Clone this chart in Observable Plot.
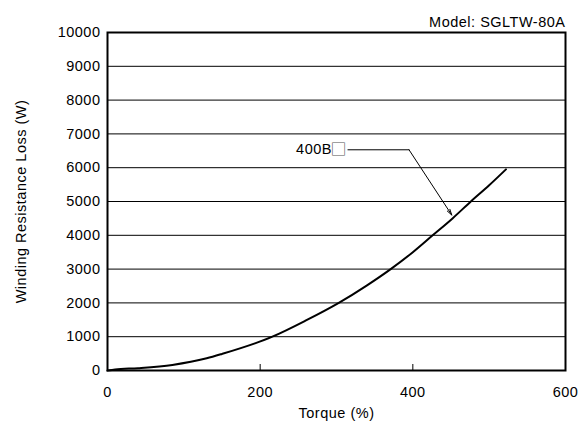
<!DOCTYPE html>
<html>
<head>
<meta charset="utf-8">
<script src="https://cdn.jsdelivr.net/npm/d3@7"></script>
<script src="https://cdn.jsdelivr.net/npm/@observablehq/plot@0.6"></script>
<style>
  html, body { margin: 0; padding: 0; background: #fff; }
  #chart svg { display: block; }
</style>
</head>
<body>
<div id="chart"></div>
<script>
// Data
const torque = [0, 10, 40, 85, 130, 150, 216, 260, 303, 340, 371, 400, 426, 452, 476, 500, 522];
const loss   = [0, 30, 70, 165, 360, 490, 1000, 1480, 2000, 2520, 3000, 3500, 4000, 4500, 5000, 5480, 5950];
const xTicks = [0, 200, 400, 600];
const yTicks = [0, 1000, 2000, 3000, 4000, 5000, 6000, 7000, 8000, 9000, 10000];
const seriesLabel = "400B\u25A1";
const modelLabel = "Model: SGLTW-80A";
const xLabel = "Torque (%)";
const yLabel = "Winding Resistance Loss (W)";
// annotation leader: label anchor, elbow, and pointed curve location (data units)
const leaderTorque = [315, 395, 451];
const leaderLoss = [6530, 6530, 4600];

const data = torque.map((t, i) => ({t, v: loss[i]}));
const leader = leaderTorque.map((t, i) => ({t, v: leaderLoss[i]}));

const font = "'Liberation Sans', Arial, Helvetica, sans-serif";
const fmt = d => String(d);
const labelMain = seriesLabel.slice(0, -1);
const labelBox = seriesLabel.slice(-1);

const chart = Plot.plot({
  width: 579,
  height: 427,
  marginLeft: 107,
  marginRight: 14,
  marginTop: 32,
  marginBottom: 57,
  style: {fontFamily: font, fontSize: "14.5px", color: "#000", background: "#fff", letterSpacing: "0.5px"},
  x: {domain: [0, 600]},
  y: {domain: [0, 10000]},
  marks: [
    Plot.gridY(yTicks, {stroke: "#000", strokeOpacity: 1, strokeWidth: 1}),
    Plot.axisY(yTicks, {tickSize: 0, tickPadding: 7, label: null, fontSize: 14.5, tickFormat: fmt}),
    Plot.axisX(xTicks, {tickSize: 0, tickPadding: 16, label: null, fontSize: 14.5, tickFormat: fmt}),
    Plot.axisX([200, 400], {tickSize: 6, dy: -6, text: null, label: null, strokeWidth: 1}),
    Plot.frame({stroke: "#000", strokeWidth: 2}),
    Plot.line(data, {x: "t", y: "v", stroke: "#000", strokeWidth: 2, curve: "monotone-x"}),
    Plot.line(leader.slice(0, 2), {x: "t", y: "v", stroke: "#000", strokeWidth: 1}),
    Plot.arrow([{x1: leader[1].t, y1: leader[1].v, x2: leader[2].t, y2: leader[2].v}], {
      x1: "x1", y1: "y1", x2: "x2", y2: "y2", stroke: "#000", strokeWidth: 1, headLength: 9, headAngle: 30
    }),
    Plot.text([labelMain], {x: leader[0].t, y: leader[0].v, text: d => d, textAnchor: "end", dx: -16, fontSize: 14.5, fill: "#000"}),
    Plot.text([labelBox], {x: leader[0].t, y: leader[0].v, text: d => d, textAnchor: "end", dx: -1, fontSize: 16, fill: "#555",
      fontFamily: "'Noto Sans CJK JP', sans-serif", letterSpacing: "0px"}),
    Plot.text([modelLabel], {frameAnchor: "top-right", text: d => d, dy: -16, fontSize: 14.5, fill: "#000", textAnchor: "end"}),
    Plot.text([xLabel], {frameAnchor: "bottom", text: d => d, dy: 47, fontSize: 14.5, fill: "#000"}),
    Plot.text([yLabel], {frameAnchor: "left", text: d => d, dx: -86, rotate: -90, textAnchor: "middle", fontSize: 14.5, fill: "#000"})
  ]
});
document.getElementById("chart").appendChild(chart);
</script>
</body>
</html>
